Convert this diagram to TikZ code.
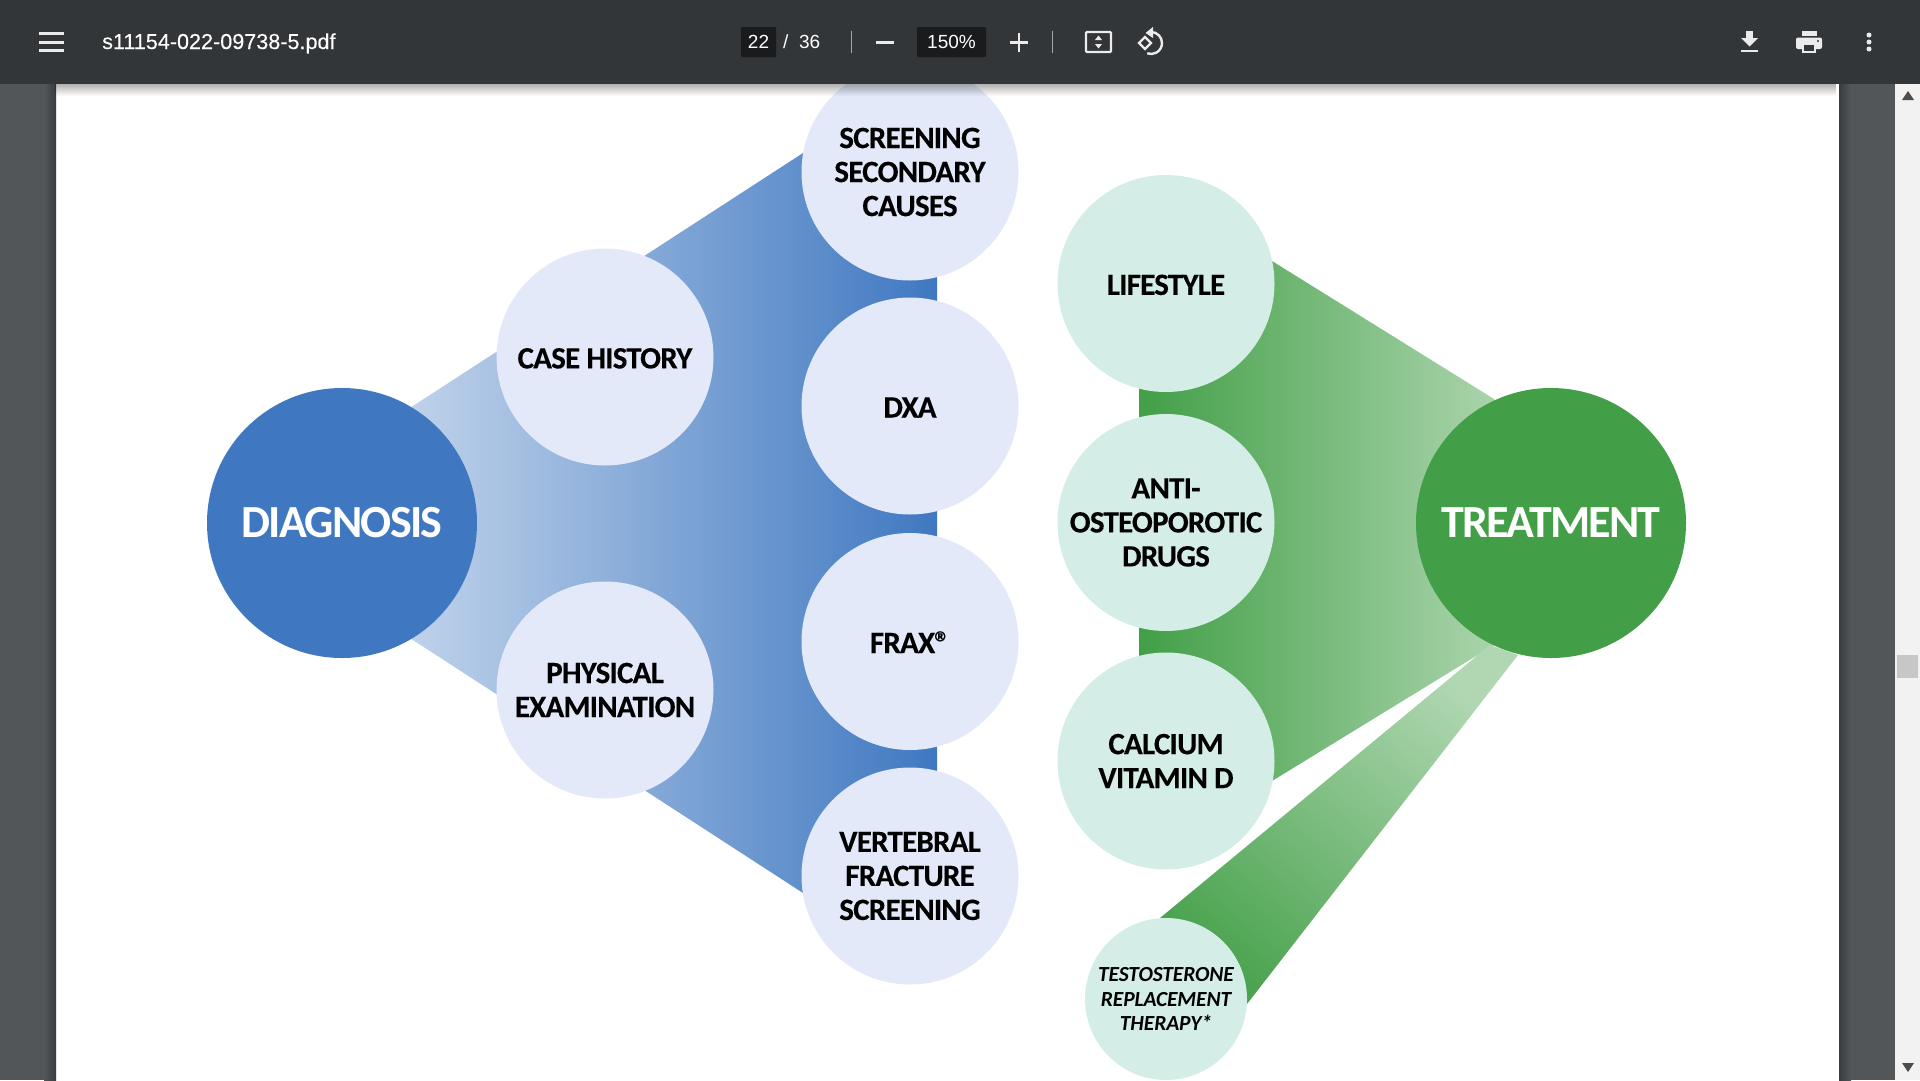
\documentclass[tikz,border=0pt]{standalone}
\usepackage{fontspec}
\setmainfont{Carlito}
\newfontfamily\barfont{Liberation Sans}
\newfontfamily\filefont[FakeBold=0.2]{Liberation Sans}
\usetikzlibrary{shapes.geometric,fadings}

\definecolor{bardark}{HTML}{323639}
\definecolor{sidegrey}{HTML}{525659}
\definecolor{boxdark}{HTML}{191B1C}
\definecolor{blueapex}{HTML}{3F78C1}
\definecolor{bluepale}{HTML}{E3E9F9}
\definecolor{greenapex}{HTML}{429F47}
\definecolor{greenpale}{HTML}{D4EEE7}

\tikzset{
    bigcircle/.style={circle,minimum size=270pt,inner sep=0pt,text=white,align=center,font=\bfseries\fontsize{46}{50}\selectfont\addfontfeatures{LetterSpace=-3.8}},
    midcircle/.style={circle,minimum size=217pt,inner sep=0pt,text=black,align=center,font=\bfseries\fontsize{31}{34}\selectfont\addfontfeatures{LetterSpace=-2.5,FakeBold=0.25},execute at begin node={\rule{0pt}{23pt}}},
    bluecircle/.style={midcircle,fill=bluepale},
    greencircle/.style={midcircle,fill=greenpale},
    smallcircle/.style={circle,minimum size=162pt,inner sep=0pt,fill=greenpale,text=black,align=center,font=\bfseries\itshape\fontsize{21.5}{24.5}\selectfont\addfontfeatures{LetterSpace=-0.5},execute at begin node={\rule{0pt}{29pt}}},
    barlabel/.style={text=white,inner sep=0pt,font=\barfont\fontsize{19}{22}\selectfont},
    barbox/.style={fill=boxdark,rounded corners=1pt},
    icon/.style={draw=white!92!black,line width=2.4pt},
    iconfill/.style={fill=white!92!black}
}

\begin{document}
\begin{tikzpicture}[x=1pt,y=-1pt]
    \useasboundingbox (0,0) rectangle (1920,1080);
    \fill[sidegrey] (0,0) rectangle (1920,1080);
    \fill[white] (56,84) rectangle (1839,1080);
    % shadows beside the page
    \shade[left color=sidegrey,right color=black!30!sidegrey] (44,84) rectangle (56,1080);
    \shade[left color=black!30!sidegrey,right color=sidegrey] (1839,84) rectangle (1851,1080);

    % blue wedge
    \path[left color=blueapex!25!white,middle color=blueapex!68!white,right color=blueapex]
        (342,452)--(820,142)--(937,142)--(937,904)--(820,904)--(342,594)--cycle;

    % green wedges
    \path[left color=greenapex,middle color=greenapex!64!white,right color=greenapex!35!white]
        (1139,230)--(1272,261)--(1494,399)--(1560,523)--(1494,645)--(1272,781)--(1139,800)--cycle;
    \path[shading=axis,top color=greenapex!42!white,bottom color=greenapex!95!white,shading angle=-40]
        (1490,645)--(1518,655)--(1247,1004)--(1160,918)--cycle;

    % left side
    \node[bigcircle,fill=blueapex] (diagnosis) at (342,523) {DIAGNOSIS};
    \node[bluecircle] (casehistory) at (605,357) {CASE HISTORY};
    \node[bluecircle] (physical) at (605,690) {PHYSICAL\\EXAMINATION};
    \node[bluecircle] (screening) at (910,172) {SCREENING\\SECONDARY\\CAUSES};
    \node[bluecircle,execute at begin node={}] (dxa) at (910,406) {DXA};
    \node[bluecircle,execute at begin node={}] (frax) at (910,641.5) {FRAX\textregistered};
    \node[bluecircle] (vertebral) at (910,876) {VERTEBRAL\\FRACTURE\\SCREENING};

    % right side
    \node[bigcircle,fill=greenapex] (treatment) at (1551,523) {TREATMENT};
    \node[greencircle] (lifestyle) at (1166,283.5) {LIFESTYLE};
    \node[greencircle] (antiosteo) at (1166,522.5) {ANTI-\\OSTEOPOROTIC\\DRUGS};
    \node[greencircle] (calcium) at (1166,761) {CALCIUM\\VITAMIN D};
    \node[smallcircle] (testosterone) at (1166,999) {TESTOSTERONE\\REPLACEMENT\\THERAPY*};

    % toolbar
    \fill[bardark] (0,0) rectangle (1920,84);
    \fill[black,opacity=.3,path fading=south] (56,84) rectangle (1839,96);
    \fill[iconfill] (39,32) rectangle (64,35);
    \fill[iconfill] (39,40.5) rectangle (64,43.5);
    \fill[iconfill] (39,49) rectangle (64,52);
    \node[barlabel,anchor=base west,font=\filefont\fontsize{21.6}{24}\selectfont] (filename) at (102,49) {s11154-022-09738-5.pdf};
    \node[barbox,minimum width=35pt,minimum height=30pt] (pagebox) at (758.5,42) {};
    \node[barlabel] (pagenum) at (pagebox) {22};
    \node[barlabel,anchor=west] (pagetotal) at (783,42) {/\ \ 36};
    \fill[white!55!bardark] (850.5,31) rectangle (852,53);
    \fill[iconfill] (876,41) rectangle (894,43.5);
    \node[barbox,minimum width=69pt,minimum height=30pt] (zoombox) at (951.5,42) {};
    \node[barlabel] (zoomlevel) at (zoombox) {150\%};
    \fill[iconfill] (1010,41) rectangle (1028,43.5);
    \fill[iconfill] (1017.8,33) rectangle (1020.2,51.5);
    \fill[white!55!bardark] (1051.5,31) rectangle (1053,53);
    \draw[icon,rounded corners=1pt] (1086,32) rectangle (1111,52);
    \fill[iconfill] (1098.5,35.5)--(1102,40)--(1095,40)--cycle;
    \fill[iconfill] (1098.5,48.5)--(1102,44)--(1095,44)--cycle;
    % rotate button
    \draw[icon] (1139,43)--(1145,37)--(1151,43)--(1145,49)--cycle;
    \draw[icon] (1151,32) arc (270:470:11);
    \fill[iconfill] (1153,27)--(1145.5,33)--(1153,38)--cycle;
    % download and print
    \fill[iconfill] (1746,31) rectangle (1753,38);
    \fill[iconfill] (1741,38)--(1758,38)--(1749.5,46.5)--cycle;
    \fill[iconfill] (1741,49.5) rectangle (1758,52);
    \fill[iconfill] (1802,31) rectangle (1817,36);
    \fill[iconfill,rounded corners=2pt] (1796,37.5) rectangle (1822,49);
    \fill[iconfill] (1802,44) rectangle (1816,53);
    \fill[bardark] (1804,44.5) rectangle (1814,50.5);
    \fill[bardark] (1818,41) circle (1.2);
    \fill[iconfill] (1869,35) circle (2.5);
    \fill[iconfill] (1869,42) circle (2.5);
    \fill[iconfill] (1869,49) circle (2.5);

    % scroll bar
    \fill[black!5] (1895,84) rectangle (1920,1080);
    \fill[black!22] (1897,655) rectangle (1918,678);
    \fill[black!70] (1908,91)--(1902,100)--(1914,100)--cycle;
    \fill[black!70] (1908,1072)--(1902,1063)--(1914,1063)--cycle;
\end{tikzpicture}
\end{document}
